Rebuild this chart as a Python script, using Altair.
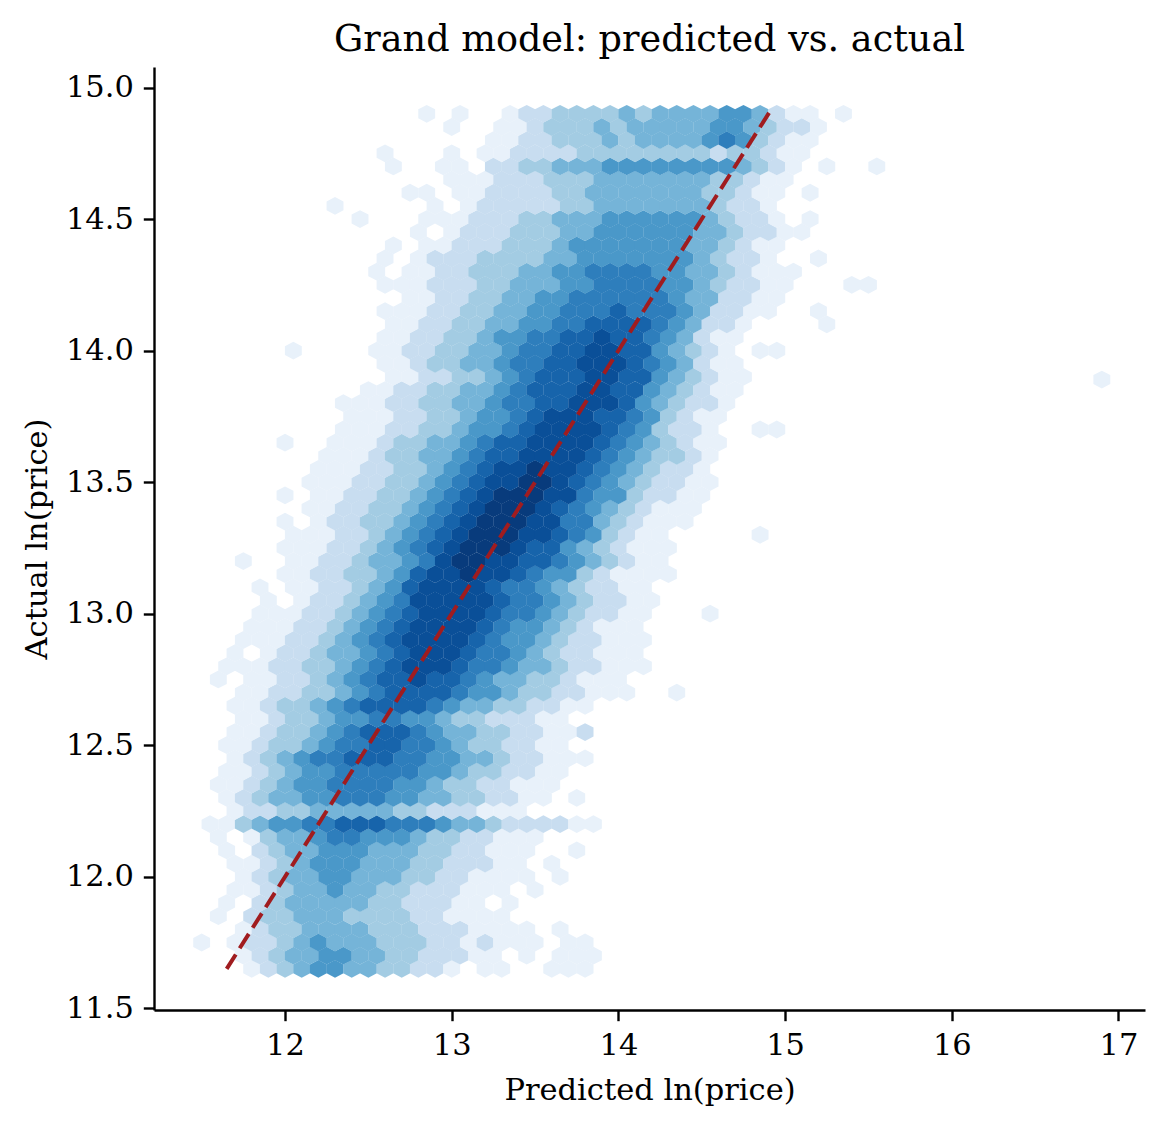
import altair as alt
import pandas as pd

# ---- data ----
# hex lattice: row j sits at y = Y0 + j*DY, cell i at x = X0 + i*DX (+DX/2 on odd rows)
X0, DX = 11.5, 0.1
Y0, DY = 11.65, 0.05
# one string per hex row, bottom to top; '.' = empty, 1..9 = shade level (light -> dark)
ROWS = [
    "...1234554433221.11..111",
    "..1234455443322211.1.111",
    "1.1223454443332212111.11",
    "..123344443332221111.1",
    ".1.2334443333221111",
    ".1.23444443322211.1",
    "..11234454433222111.1",
    "..123445544433221111.1",
    "..112345554443322211.1",
    ".1.23445554443322111..1",
    ".1.134456655543322111",
    "113455667776665443222211",
    "..122334444433222111",
    ".12344556665544332211.1",
    ".112345566665543322111",
    ".112345566666554332211",
    "..1234566777665544322111",
    ".112334566776654332211",
    "..1123345677765443322112",
    "..11233455665543322211",
    "..1123345677776544332211",
    "..112233456777765543322111..1",
    ".1.11223456778776544332111",
    ".11122334567888766544322111",
    "..1.12234456788876654322111",
    "..1112234567888876554322111",
    "...111223456788887655432111",
    "...111223456788887665432211...1",
    "....1.1223456888887665432211",
    "...1.1122345788887665432211",
    ".....112233457889887655321111",
    "..1..11223445689988776543211",
    ".....111223456789998775432111",
    ".....11122345678999887653211.....1",
    ".....1.12233456789998866432111",
    "......112233456789998765432111",
    ".....1.112233456789998865532211",
    "......1112233456788998765432211",
    ".......111223345678898876543221",
    ".......111233445677888876543321",
    ".....1..111233445677888876543211",
    "........11122334556788887653221..11",
    ".........11122334556788877653211",
    "........111223344566778887543221",
    "..........11223344567778877543211",
    "...........1122334567778877543211",
    "...........1123344566778887654211",
    ".....1....1122334456677887754321.11",
    "...........1122334556677877654211",
    "...........1122334455667777654221....1",
    "...........111223344556667666542211..1",
    "............11223344556666665442211",
    "...........1112223344455666655432211...11",
    "..........1.112233344556666554432111",
    "...........1.1222333344555555543221..1",
    "...........1.1122233345555555443211",
    ".............1.1222333445555554432211",
    ".........1...1112223344455555543221.1",
    "........1.....1.1222223344444443221",
    "............11.11222233444444433211.1",
    "...............111222333444444433211",
    "...........1..11.2233444555555554321.1..1",
    "...........1...1.11222233333333233211",
    ".................11223334344445653211",
    "...............1..11233343444445543221",
    ".............1.1..1223333434444554211.1",
]
# isolated far-right hexes
OUT_X = [16.9]
OUT_Y = [13.89]
OUT_V = [1]
# dashed identity line
LINE_X = [11.65, 14.91]
LINE_Y = [11.65, 14.91]
X_TICKS = [12, 13, 14, 15, 16, 17]
Y_TICKS = [11.5, 12.0, 12.5, 13.0, 13.5, 14.0, 14.5, 15.0]
SHADES = [1, 2, 3, 4, 5, 6, 7, 8, 9]
BLUES = ["#e8f1fa", "#c8ddf0", "#a3cce3", "#75b4d8", "#4a98c9",
         "#2e7ebc", "#1764ab", "#0a4f98", "#083b7c"]

# ---- build tables ----
recs = []
for j, row in enumerate(ROWS):
    for i, ch in enumerate(row):
        if ch != ".":
            recs.append({"x": X0 + i * DX + (j % 2) * DX / 2,
                         "y": Y0 + j * DY, "v": int(ch)})
for x, y, v in zip(OUT_X, OUT_Y, OUT_V):
    recs.append({"x": x, "y": y, "v": v})
hexes = pd.DataFrame(recs)
line = pd.DataFrame({"x": LINE_X, "y": LINE_Y})

FONT = "DejaVu Serif"
W, H = 991, 943
xs = alt.Scale(domain=[11.214, 17.159], nice=False, zero=False)
ys = alt.Scale(domain=[11.4935, 15.078], nice=False, zero=False)

HEX = "M0,-1.055 L1,-0.5275 L1,0.5275 L0,1.055 L-1,0.5275 L-1,-0.5275 Z"

xaxis = alt.Axis(values=X_TICKS, format="d", title="Predicted ln(price)",
                 titleY=89, titleBaseline="alphabetic", grid=False)
yaxis = alt.Axis(values=Y_TICKS, format=".1f", title="Actual ln(price)",
                 titleX=-108, titleY=H / 2, titleAngle=270,
                 titleBaseline="alphabetic", titleAlign="center", grid=False)

hex_layer = alt.Chart(hexes).mark_point(
    shape=HEX, filled=True, opacity=1, size=285
).encode(
    x=alt.X("x:Q", scale=xs, axis=xaxis),
    y=alt.Y("y:Q", scale=ys, axis=yaxis),
    color=alt.Color("v:Q", scale=alt.Scale(domain=SHADES, range=BLUES), legend=None),
)

line_layer = alt.Chart(line).mark_line(
    color="#a01c1f", strokeWidth=4, strokeDash=[17, 7.3]
).encode(
    x=alt.X("x:Q", scale=xs),
    y=alt.Y("y:Q", scale=ys),
)

chart = alt.layer(hex_layer, line_layer).properties(
    width=W, height=H,
    title=alt.TitleParams("Grand model: predicted vs. actual", font=FONT,
                          fontSize=36.6, fontWeight="normal", color="black",
                          anchor="middle", frame="group", offset=17,
                          baseline="alphabetic", dy=38),
    autosize=alt.AutoSizeParams(type="none"),
    padding={"left": 146, "top": 59, "right": 5, "bottom": 105},
).configure_view(stroke=None).configure_axis(
    labelFont=FONT, labelFontSize=30.5, labelColor="black",
    titleFont=FONT, titleFontSize=30.5, titleFontWeight="normal", titleColor="black",
    tickColor="black", domainColor="black", tickSize=10.7, tickWidth=2.4,
    domainWidth=2.4, labelPadding=10,
)

chart.save("out.html", embed_options={"renderer": "svg", "actions": False})
